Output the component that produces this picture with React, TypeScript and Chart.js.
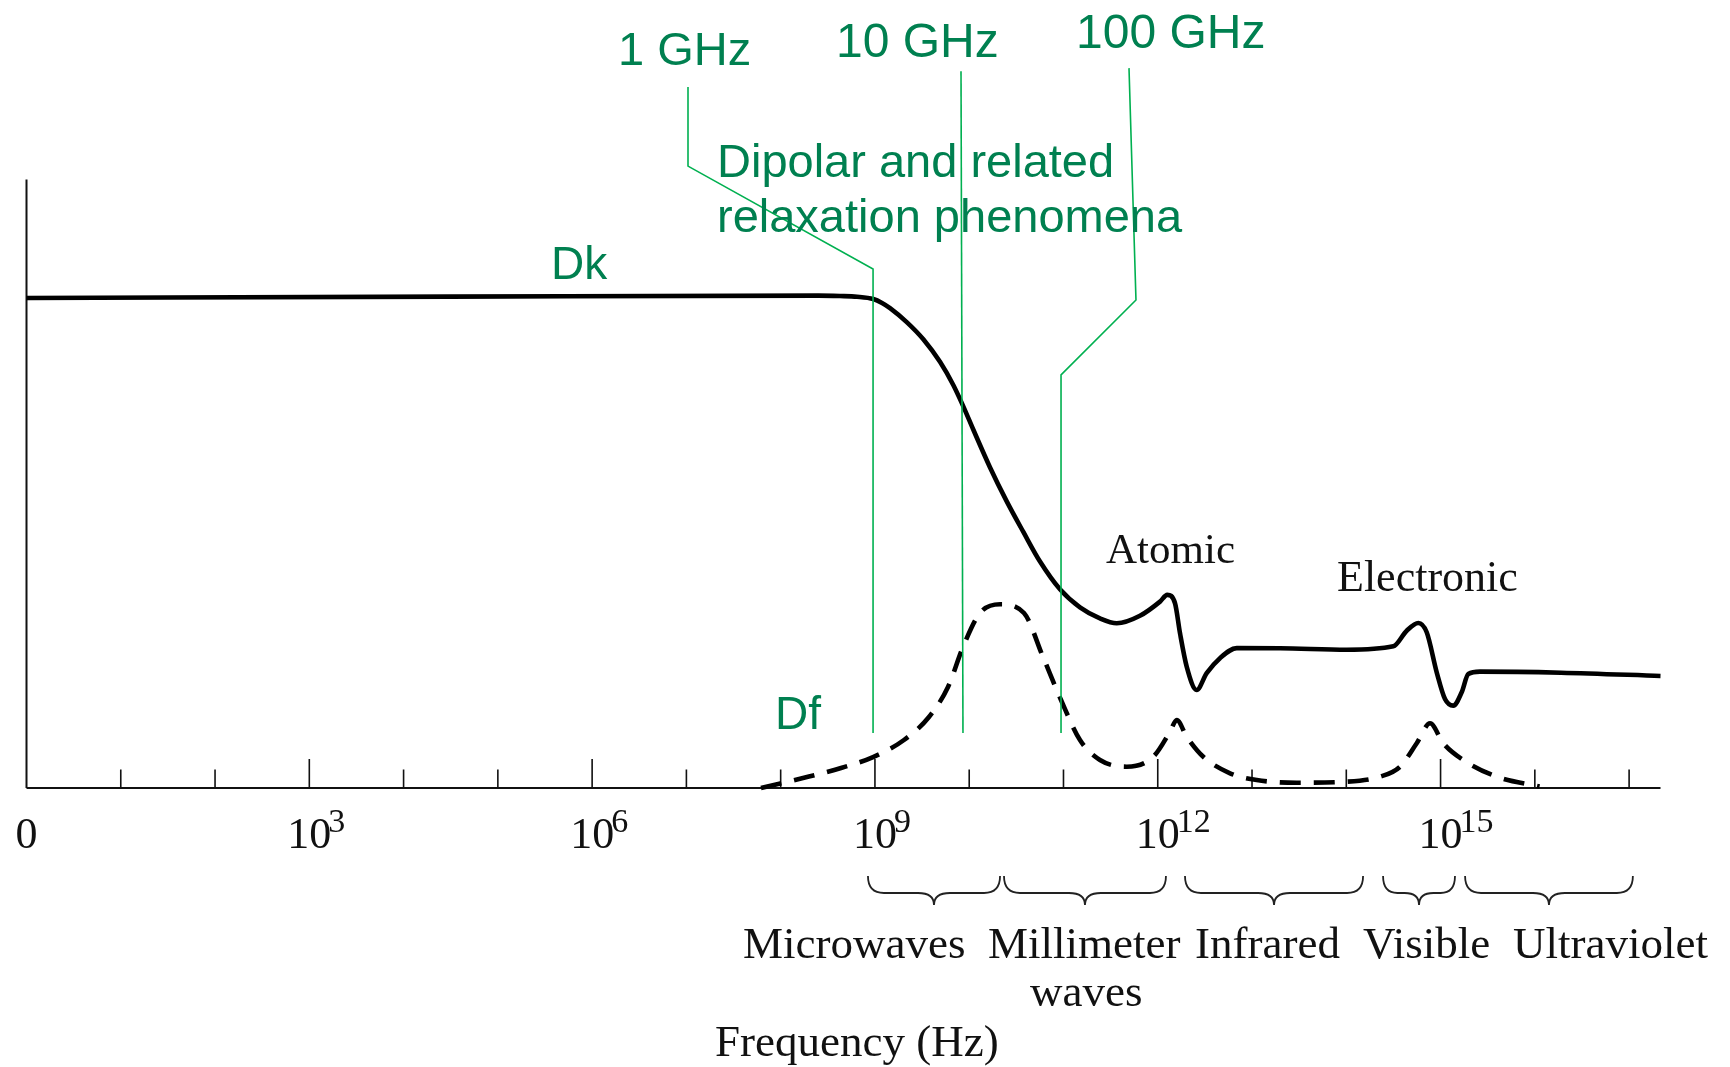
import React, { useEffect, useRef } from 'react';
import { Chart, registerables } from 'chart.js';

Chart.register(...registerables);

// ---- data (x = log10 frequency in Hz, y = relative level 0..100) ----
const dkLogF = [0, 4.49, 8.4, 8.629, 8.81, 8.983, 9.075, 9.16, 9.337, 9.513, 9.69, 9.831, 9.937, 10.044, 10.221, 10.398, 10.574, 10.751, 10.963, 11.175, 11.387, 11.565, 11.811, 12.024, 12.101, 12.183, 12.236, 12.307, 12.413, 12.519, 12.66, 12.838, 13.297, 14.004, 14.499, 14.641, 14.764, 14.853, 14.959, 15.047, 15.135, 15.224, 15.294, 15.418, 16.278, 17.333];
const dkLevel = [80.53, 80.75, 80.92, 80.85, 80.73, 80.35, 79.72, 78.87, 76.57, 73.75, 70.03, 66.22, 62.72, 58.87, 52.68, 47.1, 42.08, 37.21, 32.65, 29.68, 27.87, 27.07, 28.3, 30.63, 31.74, 30.37, 25.44, 19.96, 16.11, 18.87, 21.34, 22.98, 22.96, 22.73, 23.29, 25.85, 27.12, 25.59, 19.02, 14.63, 13.54, 15.73, 18.74, 19.13, 18.95, 18.41];

const dfLogF = [7.791, 8.237, 8.64, 8.98, 9.308, 9.573, 9.775, 9.934, 10.115, 10.327, 10.581, 10.783, 10.974, 11.175, 11.387, 11.671, 11.953, 12.13, 12.201, 12.307, 12.483, 12.767, 13.05, 13.474, 14.004, 14.358, 14.57, 14.747, 14.888, 15.029, 15.241, 15.596, 16.05];
const dfLevel = [0, 1.64, 3.29, 5.09, 7.89, 11.67, 16.6, 23.17, 28.76, 30.2, 28.76, 21.53, 14.46, 7.89, 4.6, 3.5, 5.14, 9.25, 11.17, 8.43, 5.14, 2.42, 1.31, 0.87, 1.04, 1.86, 3.5, 7.35, 10.63, 7.35, 4.6, 1.86, 0.25];

const axisMax = 17.333;
const tickDecades = [1, 2, 3, 4, 5, 6, 7, 8, 9, 10, 11, 12, 13, 14, 15, 16, 17];
const labelExponents = [0, 3, 6, 9, 12, 15];

const bandNames = ['Microwaves', 'Millimeter', 'Infrared', 'Visible', 'Ultraviolet'];
const bandStart = [8.926, 10.369, 12.289, 14.39, 15.26];
const bandEnd = [10.327, 12.087, 14.178, 15.153, 17.04];

const markerLabels = ['1 GHz', '10 GHz', '100 GHz'];
// leader line paths (logF, level) for each marker
const markerPathX = [
  [7.017, 7.017, 8.98, 8.98],
  [9.913, 9.934],
  [11.695, 11.769, 10.974, 10.974],
];
const markerPathY = [
  [115.2, 102.2, 85.3, 9.04],
  [117.8, 9.04],
  [118.3, 80.2, 67.9, 9.04],
];

const GREEN_TEXT = 'rgb(0,128,80)';
const GREEN_LINE = '#00B050';
const SERIF = '"Liberation Serif", "Times New Roman", serif';
const SANS = '"Liberation Sans", Arial, sans-serif';

const axesPlugin = {
  id: 'axesPlugin',
  beforeDatasetsDraw(chart: any) {
    const { ctx, scales } = chart;
    const xs = scales.x;
    const ys = scales.y;
    const x0 = xs.getPixelForValue(0);
    const y0 = ys.getPixelForValue(0);
    ctx.save();
    ctx.strokeStyle = '#111';
    ctx.lineWidth = 2;
    ctx.beginPath();
    ctx.moveTo(x0, y0);
    ctx.lineTo(xs.getPixelForValue(axisMax), y0);
    ctx.moveTo(x0, y0);
    ctx.lineTo(x0, ys.getPixelForValue(100));
    ctx.stroke();
    ctx.lineWidth = 1.6;
    ctx.beginPath();
    tickDecades.forEach((d) => {
      const px = xs.getPixelForValue(d);
      const len = d % 3 === 0 ? 29 : 18.5;
      ctx.moveTo(px, y0);
      ctx.lineTo(px, y0 - len);
    });
    ctx.stroke();
    ctx.restore();
  },
  afterDatasetsDraw(chart: any) {
    const { ctx, scales } = chart;
    const xs = scales.x;
    const ys = scales.y;
    const y0 = ys.getPixelForValue(0);
    ctx.save();
    ctx.fillStyle = '#111';
    ctx.textBaseline = 'alphabetic';
    // tick labels
    labelExponents.forEach((e) => {
      const px = xs.getPixelForValue(e);
      ctx.font = `44px ${SERIF}`;
      ctx.textAlign = 'center';
      if (e === 0) {
        ctx.fillText('0', px, y0 + 60);
      } else {
        ctx.fillText('10', px, y0 + 60);
        const w = ctx.measureText('10').width;
        ctx.font = `34px ${SERIF}`;
        ctx.textAlign = 'left';
        ctx.fillText(String(e), px + w / 2 - 3, y0 + 44);
      }
    });
    // braces
    ctx.strokeStyle = '#222';
    ctx.lineWidth = 1.8;
    const top = y0 + 88;
    const mid = y0 + 105;
    const tipY = y0 + 117;
    bandStart.forEach((s, i) => {
      const a = xs.getPixelForValue(s);
      const b = xs.getPixelForValue(bandEnd[i]);
      const t = (a + b) / 2;
      const r = Math.min(16, (b - a) / 5);
      ctx.beginPath();
      ctx.moveTo(a, top);
      ctx.quadraticCurveTo(a, mid, a + r, mid);
      ctx.lineTo(t - r, mid);
      ctx.quadraticCurveTo(t, mid, t, tipY);
      ctx.quadraticCurveTo(t, mid, t + r, mid);
      ctx.lineTo(b - r, mid);
      ctx.quadraticCurveTo(b, mid, b, top);
      ctx.stroke();
    });
    // band labels
    ctx.font = `45px ${SERIF}`;
    ctx.textAlign = 'left';
    const bandLabelX = [743, 988, 1195, 1363, 1513];
    bandNames.forEach((n, i) => ctx.fillText(n, bandLabelX[i], 958));
    ctx.fillText('waves', 1030, 1006);
    ctx.fillText('Frequency (Hz)', 715, 1056);
    ctx.font = `43px ${SERIF}`;
    ctx.fillText('Atomic', 1106, 563);
    ctx.font = `44px ${SERIF}`;
    ctx.fillText('Electronic', 1337, 591);

    // green leader lines
    ctx.strokeStyle = GREEN_LINE;
    ctx.lineWidth = 1.6;
    markerPathX.forEach((px, i) => {
      ctx.beginPath();
      px.forEach((v, j) => {
        const X = xs.getPixelForValue(v);
        const Y = ys.getPixelForValue(markerPathY[i][j]);
        if (j === 0) ctx.moveTo(X, Y);
        else ctx.lineTo(X, Y);
      });
      ctx.stroke();
    });
    // green texts
    ctx.fillStyle = GREEN_TEXT;
    ctx.font = `47px ${SANS}`;
    ctx.fillText(markerLabels[0], 618, 65);
    ctx.font = `48px ${SANS}`;
    ctx.fillText(markerLabels[1], 836, 57);
    ctx.fillText(markerLabels[2], 1076, 48);
    ctx.font = `47px ${SANS}`;
    ctx.fillText('Dipolar and related', 717, 177);
    ctx.fillText('relaxation phenomena', 717, 232);
    ctx.font = `46px ${SANS}`;
    ctx.fillText('Dk', 551, 279);
    ctx.fillText('Df', 775, 729);
    ctx.restore();
  },
};

export default function App() {
  const ref = useRef<HTMLCanvasElement | null>(null);
  useEffect(() => {
    if (!ref.current) return;
    const chart = new Chart(ref.current, {
      type: 'line',
      data: {
        datasets: [
          {
            label: 'Dk',
            data: dkLogF.map((x, i) => ({ x, y: dkLevel[i] })),
            borderColor: '#000',
            borderWidth: 4.6,
            pointRadius: 0,
            fill: false,
            cubicInterpolationMode: 'monotone',
            clip: false as any,
          },
          {
            label: 'Df',
            data: dfLogF.map((x, i) => ({ x, y: dfLevel[i] })),
            borderColor: '#000',
            borderWidth: 4.6,
            borderDash: [21, 13],
            pointRadius: 0,
            fill: false,
            cubicInterpolationMode: 'monotone',
            clip: false as any,
          },
        ],
      },
      options: {
        animation: false,
        responsive: false,
        devicePixelRatio: 1,
        layout: { padding: { left: 26.5, right: 69.5, top: 179.5, bottom: 279 } },
        plugins: { legend: { display: false }, tooltip: { enabled: false } },
        scales: {
          x: { type: 'linear', min: 0, max: axisMax, display: false },
          y: { type: 'linear', min: 0, max: 100, display: false },
        },
      },
      plugins: [axesPlugin],
    } as any);
    return () => chart.destroy();
  }, []);
  return (
    <div style={{ position: 'fixed', left: 0, top: 0, width: 1730, height: 1067, background: '#fff' }}>
      <canvas ref={ref} width={1730} height={1067} style={{ width: 1730, height: 1067, display: 'block' }} />
    </div>
  );
}
